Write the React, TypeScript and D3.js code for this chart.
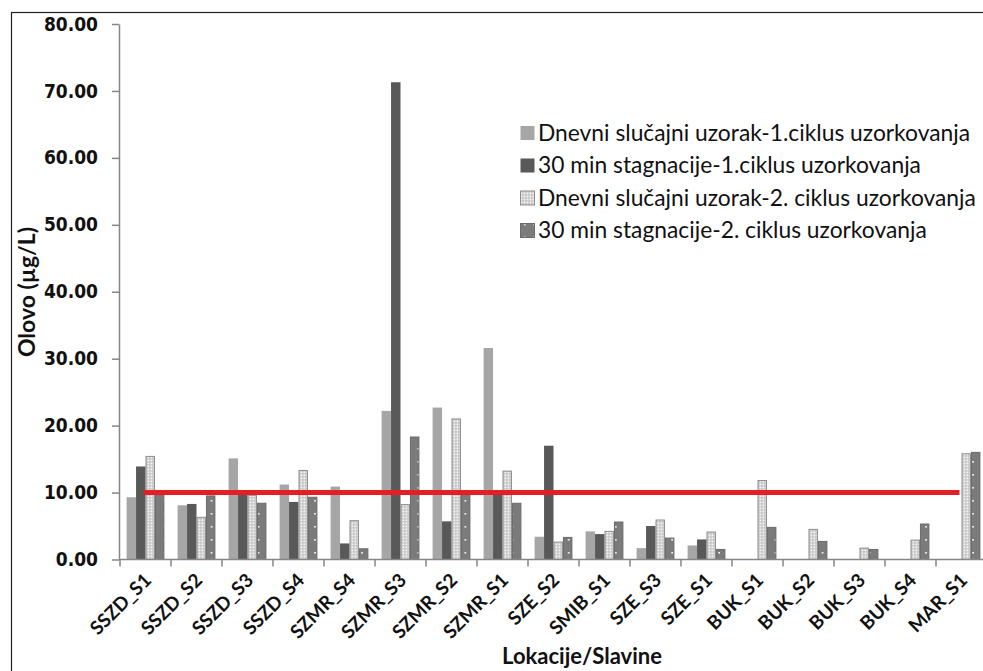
import React, { useEffect, useRef } from 'react';
import * as d3 from 'd3';

// categories (locations / taps)
const categories = [
  'SSZD_S1', 'SSZD_S2', 'SSZD_S3', 'SSZD_S4', 'SZMR_S4', 'SZMR_S3', 'SZMR_S2', 'SZMR_S1',
  'SZE_S2', 'SMIB_S1', 'SZE_S3', 'SZE_S1', 'BUK_S1', 'BUK_S2', 'BUK_S3', 'BUK_S4', 'MAR_S1',
];

const seriesNames = [
  'Dnevni slučajni uzorak-1.ciklus uzorkovanja',
  '30 min stagnacije-1.ciklus uzorkovanja',
  'Dnevni slučajni uzorak-2. ciklus uzorkovanja',
  '30 min stagnacije-2. ciklus uzorkovanja',
];

const dnevni1 = [9.3, 8.1, 15.1, 11.2, 10.9, 22.2, 22.7, 31.6, 3.4, 4.2, 1.7, 2.1, null, null, null, null, null];
const stag1 = [13.9, 8.3, 9.9, 8.6, 2.4, 71.3, 5.7, 10.0, 17.0, 3.8, 5.0, 3.0, null, null, null, null, null];
const dnevni2 = [15.4, 6.3, 9.6, 13.3, 5.8, 8.2, 21.0, 13.2, 2.6, 4.2, 5.9, 4.1, 11.8, 4.5, 1.7, 2.9, 15.8];
const stag2 = [9.6, 9.5, 8.4, 9.3, 1.6, 18.3, 9.6, 8.4, 3.3, 5.6, 3.2, 1.5, 4.8, 2.7, 1.5, 5.3, 16.0];

// MDK limit line
const limit = [10, 10, 10, 10, 10, 10, 10, 10, 10, 10, 10, 10, 10, 10, 10, 10, 10];

const yTicks = [0, 10, 20, 30, 40, 50, 60, 70, 80];

const App = () => {
  const svgRef = useRef<SVGSVGElement>(null);

  useEffect(() => {
    const svg = d3.select(svgRef.current);
    svg.selectAll('*').remove();

    const width = 983;
    const height = 671;
    const left = 120;
    const bandW = 51;

    const defs = svg.append('defs');
    // dotted light pattern (series 3)
    const p3 = defs
      .append('pattern')
      .attr('id', 'pat3')
      .attr('patternUnits', 'userSpaceOnUse')
      .attr('width', 3)
      .attr('height', 3);
    p3.append('rect').attr('width', 3).attr('height', 3).attr('fill', '#c4c4c4');
    p3.append('rect').attr('x', 0.5).attr('y', 0.5).attr('width', 1.8).attr('height', 1.8).attr('fill', '#f6f6f6');
    // grey with sparse white dots (series 4)
    const p4 = defs
      .append('pattern')
      .attr('id', 'pat4')
      .attr('patternUnits', 'userSpaceOnUse')
      .attr('width', 9.4)
      .attr('height', 13);
    p4.append('rect').attr('width', 9.4).attr('height', 13).attr('fill', '#7b7b7b');
    p4.append('rect').attr('x', 4).attr('y', 6).attr('width', 1.6).attr('height', 1.6).attr('fill', '#ffffff');

    const fills = ['#a6a6a6', '#595959', 'url(#pat3)', 'url(#pat4)'];
    const strokes = ['none', 'none', '#8c8c8c', '#6a6a6a'];
    const values = [dnevni1, stag1, dnevni2, stag2];

    const y = d3.scaleLinear().domain([0, 80]).range([559.5, 24]);
    const x = d3
      .scaleBand()
      .domain(categories)
      .range([left, left + bandW * categories.length]);
    const xs = d3
      .scaleBand<number>()
      .domain([0, 1, 2, 3])
      .range([6.6, bandW - 6.6]);

    svg.append('rect').attr('width', width).attr('height', height).attr('fill', '#fff');

    // outer frame (cropped at right/bottom)
    svg
      .append('rect')
      .attr('x', 11.5)
      .attr('y', 12.5)
      .attr('width', width)
      .attr('height', height)
      .attr('fill', 'none')
      .attr('stroke', '#222')
      .attr('stroke-width', 1.2);

    // bars
    values.forEach((vals, si) => {
      svg
        .append('g')
        .selectAll('rect')
        .data(categories.map((c, i) => ({ c, v: vals[i] })).filter((d) => d.v != null))
        .enter()
        .append('rect')
        .attr('x', (d) => (x(d.c) as number) + (xs(si) as number) + (strokes[si] === 'none' ? 0 : 0.5))
        .attr('y', (d) => y(d.v as number))
        .attr('width', xs.bandwidth() - (strokes[si] === 'none' ? 0 : 1))
        .attr('height', (d) => y(0) - y(d.v as number))
        .attr('fill', fills[si])
        .attr('stroke', strokes[si])
        .attr('stroke-width', 1);
    });

    // limit line
    const line = d3
      .line<number>()
      .x((_, i) => (x(categories[i]) as number) + x.bandwidth() / 2 - 2)
      .y((d) => y(d));
    svg
      .append('path')
      .attr('d', line(limit))
      .attr('fill', 'none')
      .attr('stroke', '#e41e26')
      .attr('stroke-width', 5);

    // y axis
    const yAxis = svg
      .append('g')
      .attr('transform', `translate(${left - 1},0)`)
      .call(
        d3
          .axisLeft(y)
          .tickValues(yTicks)
          .tickSize(7)
          .tickSizeOuter(0)
          .tickPadding(14)
          .tickFormat((d) => (d as number).toFixed(2))
      );
    yAxis.selectAll('path, line').attr('stroke', '#868686').attr('stroke-width', 1.5);
    yAxis
      .selectAll('text')
      .attr('fill', '#111')
      .style('font-family', '"DejaVu Sans Condensed", "DejaVu Sans", sans-serif')
      .style('font-stretch', 'condensed')
      .style('font-weight', 'bold')
      .style('font-size', '19px');

    // x axis
    const xAxis = svg.append('g');
    xAxis
      .append('line')
      .attr('x1', left - 1)
      .attr('x2', width)
      .attr('y1', y(0))
      .attr('y2', y(0))
      .attr('stroke', '#868686')
      .attr('stroke-width', 1.5);
    xAxis
      .selectAll('.tick')
      .data(categories)
      .enter()
      .append('line')
      .attr('x1', (d) => x(d) as number)
      .attr('x2', (d) => x(d) as number)
      .attr('y1', y(0))
      .attr('y2', y(0) + 7)
      .attr('stroke', '#868686')
      .attr('stroke-width', 1.5);
    xAxis
      .selectAll('.lbl')
      .data(categories)
      .enter()
      .append('text')
      .attr(
        'transform',
        (d) => `translate(${(x(d) as number) + x.bandwidth() / 2 + 7},${y(0) + 22}) rotate(-45)`
      )
      .attr('text-anchor', 'end')
      .style('font-family', 'Lato, sans-serif')
      .style('font-weight', 'bold')
      .style('font-size', '19px')
      .attr('fill', '#111')
      .text((d) => d);

    // axis titles
    svg
      .append('text')
      .attr('x', 582)
      .attr('y', 664)
      .attr('text-anchor', 'middle')
      .style('font-family', 'Lato, sans-serif')
      .style('font-weight', 'bold')
      .style('font-size', '22px')
      .attr('fill', '#111')
      .text('Lokacije/Slavine');
    svg
      .append('text')
      .attr('transform', 'translate(35,292) rotate(-90)')
      .attr('text-anchor', 'middle')
      .style('font-family', 'Lato, sans-serif')
      .style('font-weight', 'bold')
      .style('font-size', '23px')
      .attr('fill', '#111')
      .text('Olovo  (µg/L)');

    // legend
    const legend = svg.append('g').attr('transform', 'translate(520,133)');
    seriesNames.forEach((name, i) => {
      const row = legend.append('g').attr('transform', `translate(0,${i * 32.5})`);
      row
        .append('rect')
        .attr('x', 0.5)
        .attr('y', -7)
        .attr('width', 14)
        .attr('height', 14)
        .attr('fill', fills[i])
        .attr('stroke', strokes[i]);
      row
        .append('text')
        .attr('x', 18)
        .attr('dy', '0.35em')
        .style('font-family', 'Lato, sans-serif')
        .style('font-size', '22.8px')
        .attr('fill', '#111')
        .text(name);
    });
  }, []);

  return (
    <div style={{ position: 'fixed', left: 0, top: 0, background: 'white' }}>
      <svg ref={svgRef} width={983} height={671} style={{ display: 'block' }}></svg>
    </div>
  );
};

export default App;
